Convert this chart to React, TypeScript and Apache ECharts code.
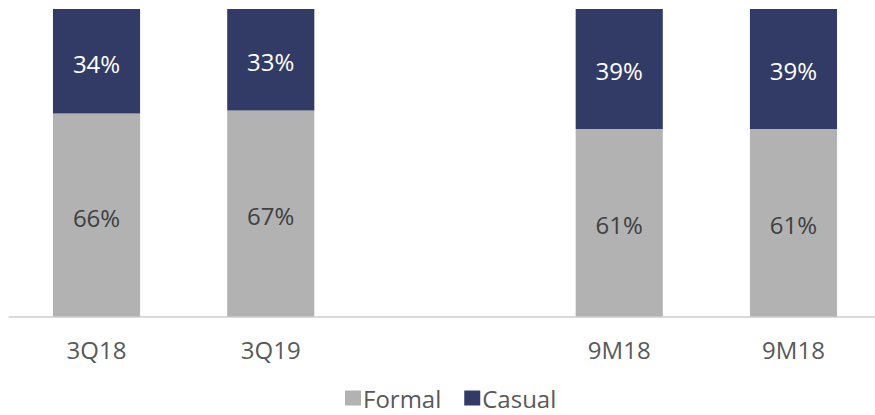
import React, { useEffect, useRef } from "react";
import * as echarts from "echarts";

const categories = ["3Q18", "3Q19", "", "9M18", "9M18"];
const formal = [66, 67, null, 61, 61];
const casual = [34, 33, null, 39, 39];

export default function App() {
  const ref = useRef<HTMLDivElement>(null);
  useEffect(() => {
    if (!ref.current) return;
    const chart = echarts.init(ref.current, null, { renderer: "svg" });
    const font = "'Open Sans', 'Noto Sans', sans-serif";
    chart.setOption({
      animation: false,
      textStyle: { fontFamily: font },
      grid: { left: 9.4, width: 871.2, top: 9, bottom: 98.5 },
      legend: {
        left: 340,
        top: 381,
        itemWidth: 16,
        itemHeight: 15,
        itemGap: 23,
        icon: "rect",
        textStyle: { fontSize: 24, color: "#595959", fontFamily: font, padding: [0, 0, 0, -3] },
        data: ["Formal", "Casual"],
      },
      xAxis: {
        type: "category",
        data: categories,
        axisLine: { lineStyle: { color: "#d9d9d9", width: 2 } },
        axisTick: { show: false },
        axisLabel: { fontSize: 24, color: "#595959", margin: 21, fontFamily: font },
      },
      yAxis: { type: "value", min: 0, max: 100, show: false },
      series: [
        {
          name: "Formal",
          type: "bar",
          stack: "a",
          barWidth: "50%",
          data: formal,
          itemStyle: { color: "#b2b2b2" },
          label: {
            show: true,
            position: "inside",
            offset: [0, 2],
            formatter: "{c}%",
            fontSize: 24,
            color: "#404040",
            fontFamily: font,
          },
        },
        {
          name: "Casual",
          type: "bar",
          stack: "a",
          barWidth: "50%",
          data: casual,
          itemStyle: { color: "#323b66" },
          label: {
            show: true,
            position: "inside",
            offset: [0, 2],
            formatter: "{c}%",
            fontSize: 24,
            color: "#ffffff",
            fontFamily: font,
          },
        },
      ],
    });
    return () => chart.dispose();
  }, []);
  return (
    <div style={{ position: "absolute", left: 0, top: 0, width: 875, height: 415, overflow: "hidden" }}>
      <div ref={ref} style={{ width: 882, height: 415 }} />
    </div>
  );
}
